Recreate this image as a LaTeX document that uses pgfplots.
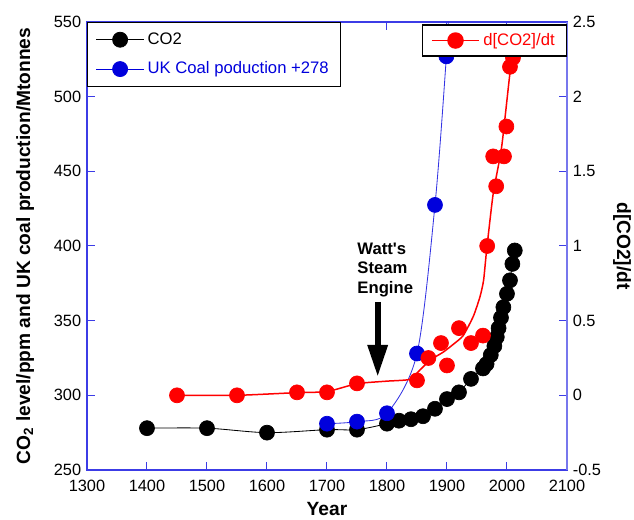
\documentclass[border=0pt]{standalone}
\usepackage{pgfplots}
\pgfplotsset{compat=1.18}
\usetikzlibrary{arrows.meta}
\usepackage{fontspec}
\setmainfont{Liberation Sans}
\definecolor{frameblue}{RGB}{60,60,230}
\definecolor{cred}{RGB}{255,0,0}
\definecolor{cblue}{RGB}{0,0,220}

\pgfplotstableread{
year co2
1400 278
1500 278
1600 275
1700 277
1750 277
1800 281
1820 283
1840 284
1860 286
1880 291
1900 297.5
1920 302
1940 311
1960 318
1966 321
1973 327
1979 333
1983 339
1986 345
1990 352
1994 359
2000 368
2005 377
2009 388
2013 397
}\cotwo

\pgfplotstableread{
year coal
1700 281
1750 282.4
1800 288
1850 328
1880 427.5
1899 527
}\coal

\pgfplotstableread{
year rate
1450 0
1550 0
1650 0.02
1700 0.02
1750 0.08
1850 0.1
1869 0.25
1890 0.35
1900 0.2
1920 0.45
1940 0.35
1960 0.4
1967 1.0
1982 1.4
1977 1.6
1995 1.6
1999 1.8
2005 2.2
2010 2.26
}\rate

\begin{document}
\begin{tikzpicture}
\pgfplotsset{
  every axis/.append style={
    scale only axis, width=288pt, height=268.8pt,
    xmin=1300, xmax=2100,
    tick align=inside,
    major tick length=5pt,
    tick style={frameblue, line width=0.6pt},
    axis line style={frameblue, line width=0.8pt},
    tick label style={font=\fontsize{9.8}{12}\selectfont, /pgf/number format/assume math mode=true},
    /pgf/number format/1000 sep={},
    legend cell align=left,
    legend style={draw=black, line width=0.8pt, font=\fontsize{10}{12}\selectfont,
      inner xsep=5pt, inner ysep=4pt, row sep=5pt},
    legend image code/.code={%
      \draw[mark repeat=2, mark phase=2, #1] plot coordinates {(0cm,0cm) (0.5cm,0cm) (1.0cm,0cm)};},
  },
}
\begin{axis}[
  ymin=250, ymax=550,
  xtick={1300,1400,...,2100},
  ytick={250,300,...,550},
  xtick pos=both,
  ytick pos=left,
  xticklabel pos=bottom,
  xticklabel style={yshift=-2.5pt},
  xlabel={\bfseries Year},
  xlabel style={font=\fontsize{11.5}{13}\selectfont, at={(axis description cs:0.5,-0.086)}, anchor=center},
  ylabel={\bfseries CO\textsubscript{2} level/ppm and UK coal production/Mtonnes},
  ylabel style={font=\fontsize{11.5}{13}\selectfont, at={(axis description cs:-0.129,0.5)}, anchor=center},
  legend style={at={(0,1)}, anchor=north west},
]
\addlegendimage{black, line width=0.5pt, mark=*, mark size=4.5pt}
\addlegendentry{CO2}
\addlegendimage{cblue, line width=0.5pt, mark=*, mark size=4.5pt}
\addlegendentry[text=cblue]{UK Coal poduction +278}

\addplot[black, line width=0.5pt, smooth, forget plot] table[x=year, y=co2] {\cotwo};
\addplot[black, only marks, mark=*, mark size=4.5pt, forget plot] table[x=year, y=co2] {\cotwo};

\addplot[cblue!80, line width=0.5pt, smooth, forget plot] coordinates {
  (1700,281) (1750,282.4) (1800,288) (1850,328) (1880,427.5) (1899,527) (1903,560)};
\addplot[cblue, only marks, mark=*, mark size=4.5pt, forget plot] table[x=year, y=coal] {\coal};

\node[align=left, font=\fontsize{10}{11.7}\selectfont\bfseries, anchor=north west]
  at (axis cs:1741,406) {Watt\textquotesingle s\\Steam\\Engine};
\draw[-{Triangle[width=11.5pt,length=19pt]}, line width=3.4pt, black]
  (axis cs:1784.5,362.5) -- (axis cs:1784.5,312.5);
\end{axis}

\begin{axis}[
  ymin=-0.5, ymax=2.5,
  ytick={-0.5,0,...,2.5},
  axis x line=none,
  axis y line*=right,
  ytick pos=right,
  yticklabel pos=right,
  ylabel={\bfseries d[CO2]/dt},
  ylabel style={font=\fontsize{11.5}{13}\selectfont, at={(axis description cs:1.1146,0.5)}, anchor=center, rotate=180},
  axis line style={frameblue!70, line width=0.8pt},
  yticklabel style={/pgf/number format/fixed},
  legend style={at={(1,0.995)}, anchor=north east, inner ysep=3pt},
]
\addlegendimage{cred, line width=0.9pt, mark=*, mark size=4.5pt}
\addlegendentry[text=cred]{d[CO2]/dt}
\addplot[cred, line width=0.9pt, smooth, tension=0.35, forget plot] coordinates {
  (1450,0) (1550,0) (1650,0.018) (1700,0.025) (1750,0.078) (1800,0.095)
  (1838,0.107) (1855,0.17) (1872,0.236) (1894,0.29) (1910,0.34) (1927,0.40)
  (1944,0.53) (1955,0.66) (1961,0.77) (1966,0.97) (1977,1.35) (1991,1.66)
  (2005,2.16) (2011,2.3) (2014,2.45)};
\addplot[cred, only marks, mark=*, mark size=4.5pt, forget plot] table[x=year, y=rate] {\rate};
\end{axis}
\pgfresetboundingbox
\path (-52.2pt,-30pt) rectangle (328.2pt,282pt);
\end{tikzpicture}
\end{document}
